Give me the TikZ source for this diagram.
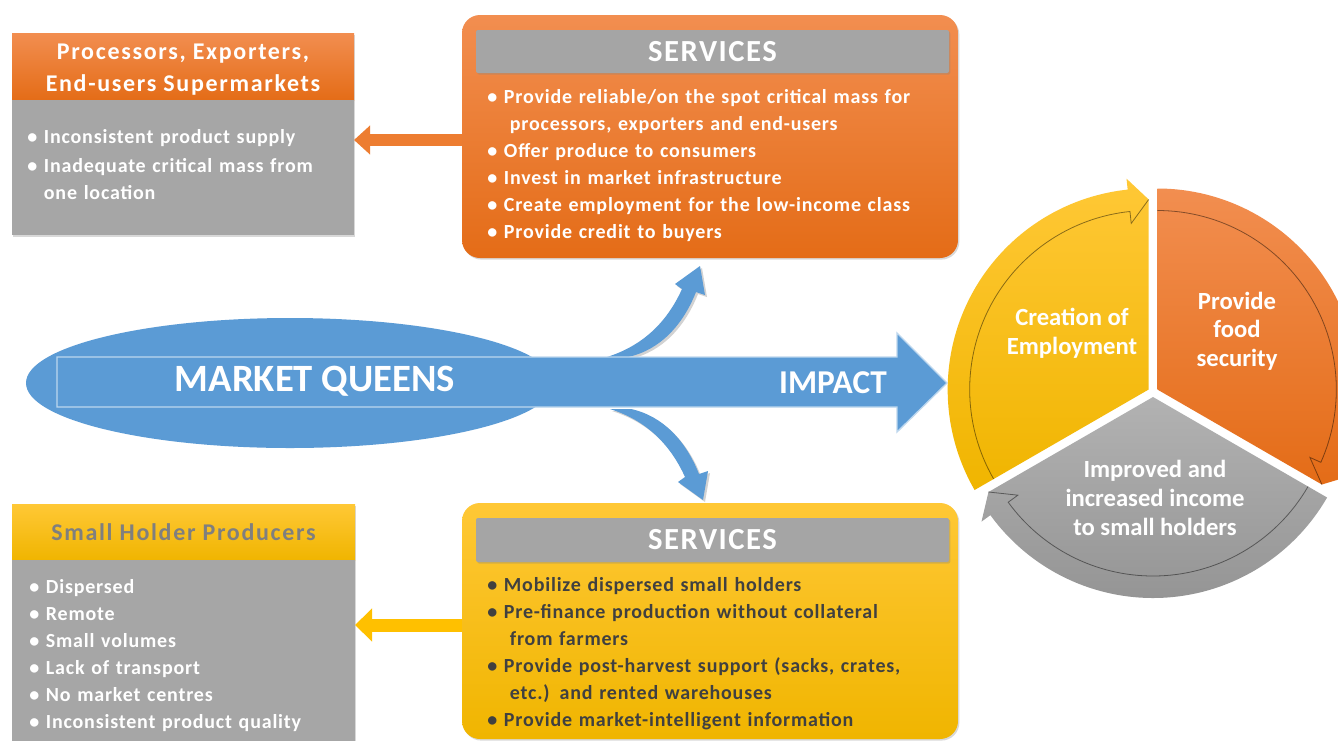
\documentclass[tikz,border=0pt]{standalone}
\usepackage{fontspec}
\setmainfont{Carlito}
\newfontfamily\lsbody{Carlito}[LetterSpace=4]
\newfontfamily\lshead{Carlito}[LetterSpace=7]
\newfontfamily\lssrv{Carlito}[LetterSpace=5]
\usetikzlibrary{calc,shadows,arrows.meta,shapes.geometric}
\definecolor{orgT}{HTML}{F28E50}
\definecolor{orgB}{HTML}{E46C17}
\definecolor{ylwT}{HTML}{FFC836}
\definecolor{ylwB}{HTML}{F0B500}
\definecolor{gryT}{HTML}{B2B2B2}
\definecolor{gryB}{HTML}{959595}
\definecolor{boxgray}{HTML}{A6A6A6}
\definecolor{hdrgray}{HTML}{A5A5A5}
\definecolor{blu}{HTML}{5B9BD5}
\definecolor{dtxt}{HTML}{404040}
\definecolor{htxt}{HTML}{7F7F7F}
\definecolor{oarr}{HTML}{ED7D31}
\definecolor{yarr}{HTML}{FFC000}
\newcommand{\bu}{\makebox[12.5pt][l]{\textbullet}}
\begin{document}
\begin{tikzpicture}[x=0.75pt,y=-0.75pt,
  bx/.style={inner sep=0, outer sep=0},
  hdr/.style={bx, align=center, font=\fontsize{18}{24}\selectfont\lshead\bfseries},
  bl/.style={anchor=base west, inner sep=0, align=left, text width=390pt, font=\fontsize{15}{20.25}\selectfont\lsbody\bfseries},
  srvh/.style={bx, shd, fill=hdrgray, rounded corners=1.5pt, text=white, font=\fontsize{23}{26}\selectfont\lssrv\bfseries, minimum width=354.75pt},
  shd/.style={drop shadow={opacity=0.3, shadow xshift=1pt, shadow yshift=-1.2pt}},
  cyc/.style={text=white, align=center, font=\fontsize{18.5}{21.5}\selectfont\bfseries},
  thinline/.style={draw=black, draw opacity=0.45, line width=0.6pt},
  barrow/.style={fill=blu, drop shadow={opacity=0.35, shadow xshift=1.5pt, shadow yshift=-1.5pt}},
]
\useasboundingbox (0,0) rectangle (1338,740);
\clip (0,0) rectangle (1338,740);
\fill[white] (0,0) rectangle (1338,740);

% ---------- top left box
\node[bx, shd, top color=orgT, bottom color=orgB, minimum width=256.5pt, minimum height=50.25pt] (plH) at (183,66.5) {};
\node[hdr, text=white] (plHt) at (183,70) {Processors, Exporters,\\End-users Supermarkets};
\node[bx, shd, fill=boxgray, minimum width=256.5pt, minimum height=101.25pt] (plB) at (183,167.5) {};
\node[bl, text=white] (plT) at (27,143) {\bu Inconsistent product supply\\[2.2pt]\bu Inadequate critical mass from\\\hspace*{12.5pt}one location};

% ---------- top services box
\node[bx, shd, rounded corners=13.5pt, top color=orgT, bottom color=orgB, minimum width=372pt, minimum height=182.25pt] (srvT) at (710,136.5) {};
\node[srvh, minimum height=32.25pt] (srvTh) at (712.5,51.5) {SERVICES};
\node[bl, text=white] (srvTt) at (487,103) {\bu Provide reliable/on the spot critical mass for\\\hspace*{17pt}processors, exporters and end-users\\\bu Offer produce to consumers\\\bu Invest in market infrastructure\\\bu Create employment for the low-income class\\\bu Provide credit to buyers};

% ---------- bottom left box
\node[hdr, shd, top color=ylwT, bottom color=ylwB, text=htxt, minimum width=257.25pt, minimum height=42pt] (shH) at (183.5,532) {Small Holder Producers};
\node[bx, shd, fill=boxgray, minimum width=257.25pt, minimum height=138.75pt] (shB) at (183.5,652.5) {};
\node[bl, text=white] (shT) at (29,593) {\bu Dispersed\\\bu Remote\\\bu Small volumes\\\bu Lack of transport\\\bu No market centres\\\bu Inconsistent product quality};

% ---------- bottom services box
\node[bx, shd, rounded corners=13.5pt, top color=ylwT, bottom color=ylwB, minimum width=372pt, minimum height=177pt] (srvB) at (710,621) {};
\node[srvh, minimum height=33pt] (srvBh) at (712.5,540) {SERVICES};
\node[bl, text=dtxt] (srvBt) at (487,591) {\bu Mobilize dispersed small holders\\\bu Pre-finance production without collateral\\\hspace*{17pt}from farmers\\\bu Provide post-harvest support (sacks, crates,\\\hspace*{17pt}etc.) and rented warehouses\\\bu Provide market-intelligent information};

% ---------- side arrows
\coordinate (yo) at (0,140);
\coordinate (yy) at (0,625);
\draw[oarr, line width=9pt, -{Triangle[width=21pt,length=12pt]}] (srvT.west |- yo) -- (plB.east |- yo);
\draw[yarr, line width=9.75pt, -{Triangle[width=24pt,length=12.75pt]}] (srvB.west |- yy) -- (shB.east |- yy);

% ---------- market queens
\node[bx, ellipse, fill=blu, minimum width=396pt, minimum height=97.5pt] (mq) at (290,383) {};
\path[barrow] (607,357) .. controls (645,345) and (668,320) .. (682,289) -- (675,284) -- (700,266) -- (705,295) -- (696,292) .. controls (683,325) and (660,350) .. (628,357) -- cycle;
\path[barrow] (610,409) .. controls (648,421) and (671,446) .. (685,477) -- (678,482) -- (703,500) -- (708,471) -- (699,474) .. controls (686,441) and (663,416) .. (631,409) -- cycle;
\path[fill=blu, draw=blu!40!white, line width=1pt] (57,357) -- (897,357) -- (897,333) -- (947,383) -- (897,432) -- (897,407) -- (57,407) -- cycle;
\node[text=white, font=\fontsize{29}{32}\selectfont\bfseries] (mqt) at (315,381) {MARKET QUEENS};
\node[text=white, font=\fontsize{25}{28}\selectfont\bfseries] (imp) at (833,383) {IMPACT};

% ---------- cycle
\coordinate (C) at (1153,392);
\foreach \a/\z/\zz/\bb/\ct/\cb in {-210/-90/-96/-150/ylwT/ylwB, -90/30/24/-30/orgT/orgB, 30/150/144/90/gryT/gryB}{
  \begin{scope}[shift={($(C)+(\bb:5)$)}]
    \path[top color=\ct, bottom color=\cb] (0,0) -- (\a:201) arc[start angle=\a, end angle=\zz, radius=201] -- (\zz:212) -- (\z:190) -- cycle;
    \draw[thinline] (\a:179) arc[start angle=\a, end angle=\zz, radius=179] -- (\zz:167) -- (\z:190);
  \end{scope}
}
\node[cyc] (c1) at (1072,333) {Creation of\\Employment};
\node[cyc] (c2) at (1237,331) {Provide\\food\\security};
\node[cyc] (c3) at (1155,498) {Improved and\\increased income\\to small holders};
\end{tikzpicture}
\end{document}
